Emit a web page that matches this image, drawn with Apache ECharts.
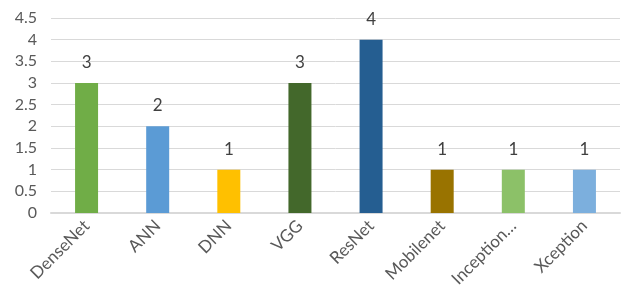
<!DOCTYPE html>
<html>
<head>
<meta charset="utf-8">
<script src="https://cdn.jsdelivr.net/npm/echarts@6/dist/echarts.min.js"></script>
<style>
  html, body { margin: 0; padding: 0; background: #fff; }
  #chart { width: 625px; height: 296px; }
</style>
</head>
<body>
<div id="chart"></div>
<script>
  // 数据
  const categories = ['DenseNet', 'ANN', 'DNN', 'VGG', 'ResNet', 'Mobilenet', 'Inception…', 'Xception'];
  const counts = [3, 2, 1, 3, 4, 1, 1, 1];
  const barColors = ['#70AD47', '#5B9BD5', '#FFC000', '#43682B', '#255E91', '#997300', '#8CC168', '#7CAFDD'];
  const yTicks = { min: 0, max: 4.5, interval: 0.5 };

  let chart = echarts.init(document.getElementById('chart'));
  chart.setOption({
    animation: false,
    textStyle: { fontFamily: 'Lato, "Open Sans", sans-serif' },
    grid: { left: 51, right: 5, top: 18, bottom: 83 },
    xAxis: {
      type: 'category',
      data: categories,
      axisLine: { lineStyle: { color: '#d9d9d9', width: 2 } },
      axisTick: { show: false },
      axisLabel: { rotate: 45, color: '#595959', fontSize: 17, margin: 10, interval: 0 }
    },
    yAxis: {
      type: 'value',
      min: yTicks.min, max: yTicks.max, interval: yTicks.interval,
      axisLine: { show: false },
      axisTick: { show: false },
      splitLine: { lineStyle: { color: '#d9d9d9', width: 1 } },
      axisLabel: { color: '#595959', fontSize: 16, margin: 14 }
    },
    series: [{
      type: 'bar',
      barWidth: 23,
      data: counts.map((v, i) => ({ value: v, itemStyle: { color: barColors[i] } })),
      label: { show: true, position: 'top', distance: 12, color: '#404040', fontSize: 17 }
    }]
  });
</script>
</body>
</html>
